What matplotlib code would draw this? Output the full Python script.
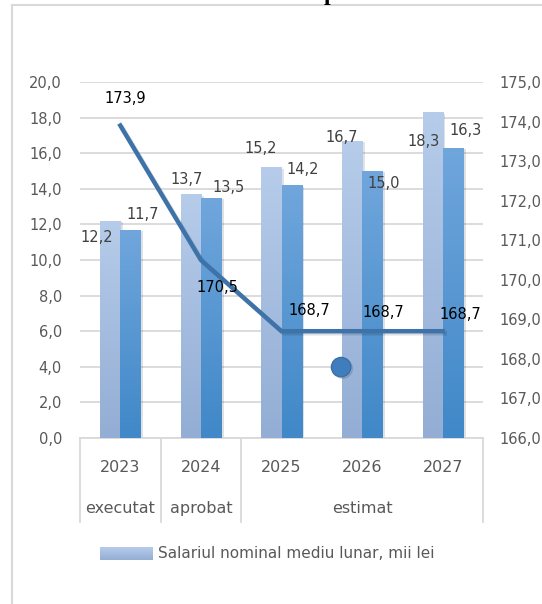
import numpy as np
import matplotlib
matplotlib.use("Agg")
from matplotlib import pyplot as plt
from matplotlib import patheffects as pe
from matplotlib.patches import Rectangle
from matplotlib.lines import Line2D

years = ["2023", "2024", "2025", "2026", "2027"]
groups = ["executat", "aprobat", "estimat"]
group_span = [(0, 0), (1, 1), (2, 4)]
salary = [12.2, 13.7, 15.2, 16.7, 18.3]
salary2 = [11.7, 13.5, 14.2, 15.0, 16.3]
line_vals = [173.9, 170.5, 168.7, 168.7, 168.7]
legend_text = "Salariul nominal mediu lunar, mii lei"

# label offsets in pixels (as placed in the original)
off1 = [(-13, -17), (-4, 15), (-11, 19), (-10, 3), (-9, -29)]
off2 = [(12, 15), (18, 10), (11, 16), (12, -12), (13, 17)]
off_line = [(5, 27), (16, -28), (28, 21), (21, 19), (18, 17)]

light_top, light_bot = np.array([182, 204, 234]) / 255, np.array([147, 173, 212]) / 255
dark_top, dark_bot = np.array([112, 166, 220]) / 255, np.array([64, 136, 200]) / 255
grey_txt = "#595959"
grid_c = "#d9d9d9"

plt.rcParams['font.family'] = ['DejaVu Sans']

fig = plt.figure(figsize=(5.42, 6.04), dpi=100)
ax = fig.add_axes([80 / 542, 1 - 438 / 604, 403 / 542, 356 / 604])
ax2 = ax.twinx()


def grad_img(top, bot):
    t = np.linspace(0, 1, 128).reshape(-1, 1, 1)
    return top * (1 - t) + bot * t


x = np.arange(len(years))
w = 0.25
shadow = [pe.SimplePatchShadow(offset=(2, -1), alpha=0.15), pe.Normal()]
b1 = ax.bar(x - w / 2, salary, w, color=light_top, zorder=2, path_effects=shadow)
b2 = ax.bar(x + w / 2, salary2, w, color=dark_top, zorder=2, path_effects=shadow)
for bars, (top, bot) in [(b1, (light_top, light_bot)), (b2, (dark_top, dark_bot))]:
    for r in bars:
        x0, h, bw = r.get_x(), r.get_height(), r.get_width()
        im = ax.imshow(grad_img(top, bot), extent=[x0, x0 + bw, 0, h],
                       origin='upper', aspect='auto', zorder=3)
        im.set_clip_path(r)

for i in range(len(years)):
    ax.annotate(f"{salary[i]:.1f}".replace(".", ","), (x[i] - w / 2, salary[i]),
                xytext=off1[i], textcoords='offset pixels', ha='center', va='center',
                fontsize=10.5, color="#404040", zorder=6)
    ax.annotate(f"{salary2[i]:.1f}".replace(".", ","), (x[i] + w / 2, salary2[i]),
                xytext=off2[i], textcoords='offset pixels', ha='center', va='center',
                fontsize=10.5, color="#404040", zorder=6)

ax.set_xlim(-0.5, len(years) - 0.5)
ax.set_ylim(0, 20)
ax.set_yticks(np.arange(0, 20.1, 2))
ax.set_yticklabels([f"{v:.1f}".replace(".", ",") for v in np.arange(0, 20.1, 2)])
ax.yaxis.grid(True, color=grid_c, lw=1.3, zorder=0)
ax.set_axisbelow(True)
ax.set_xticks([])
ax.tick_params(axis='y', length=0, pad=13, labelsize=10.5, labelcolor=grey_txt)
for s in ax.spines.values():
    s.set_visible(False)
ax.spines['bottom'].set_visible(True)
ax.spines['bottom'].set_color(grid_c)
ax.spines['bottom'].set_linewidth(1.3)

ax2.plot(x, line_vals, color="#3d73a8", lw=3.2, zorder=5,
         path_effects=[pe.SimpleLineShadow(offset=(1.5, -1.5), alpha=0.12), pe.Normal()])
for i in range(len(years)):
    ax2.annotate(f"{line_vals[i]:.1f}".replace(".", ","), (x[i], line_vals[i]),
                 xytext=off_line[i], textcoords='offset pixels', ha='center', va='center',
                 fontsize=10.5, color="black", zorder=6)
ax2.set_ylim(166, 175)
ax2.set_yticks(np.arange(166, 175.1, 1))
ax2.set_yticklabels([f"{v:.1f}".replace(".", ",") for v in np.arange(166, 175.1, 1)])
ax2.tick_params(axis='y', length=0, pad=12, labelsize=10.5, labelcolor=grey_txt)
for s in ax2.spines.values():
    s.set_visible(False)

# stray marker of the line series
ax2.plot([0.648], [0.199], 'o', transform=ax2.transAxes, ms=14, color="#3f7dbd",
         mec="#3a6fa5", zorder=6, clip_on=False,
         path_effects=[pe.SimpleLineShadow(offset=(1, -1), alpha=0.15), pe.Normal()])

# multi-level category axis
tr = ax.get_xaxis_transform()
for i, yr in enumerate(years):
    ax.text(x[i], -0.0815, yr, transform=tr, ha='center', va='center',
            fontsize=11.5, color=grey_txt)
for g, (a, b) in zip(groups, group_span):
    ax.text((a + b) / 2, -0.197, g, transform=tr, ha='center', va='center',
            fontsize=11.5, color=grey_txt)
for xs in [-0.5, 0.5, 1.5, len(years) - 0.5]:
    ax.add_line(Line2D([xs, xs], [0, -0.236], transform=tr, color=grid_c,
                       lw=1.3, clip_on=False))

# legend
lx, ly = 100 / 542, 1 - 560 / 604
leg_ax = fig.add_axes([lx, ly, 53 / 542, 13 / 604])
leg_ax.imshow(grad_img(light_top, light_bot), aspect='auto', extent=[0, 1, 0, 1])
leg_ax.axis('off')
fig.text(158 / 542, 1 - 554 / 604, legend_text, ha='left', va='center',
         fontsize=11, color=grey_txt)

# chart frame and cut-off title
fig.patches.append(Rectangle((12 / 542, -0.1), 1.2, 1 - 5 / 604 + 0.1,
                             transform=fig.transFigure, fill=False,
                             ec=grid_c, lw=1.5))
fig.text(324 / 542, 1.0, "p", ha='left', va='baseline', fontsize=17,
         family='Liberation Serif', weight='bold', color='black')

fig.savefig("out.png", dpi=100)
